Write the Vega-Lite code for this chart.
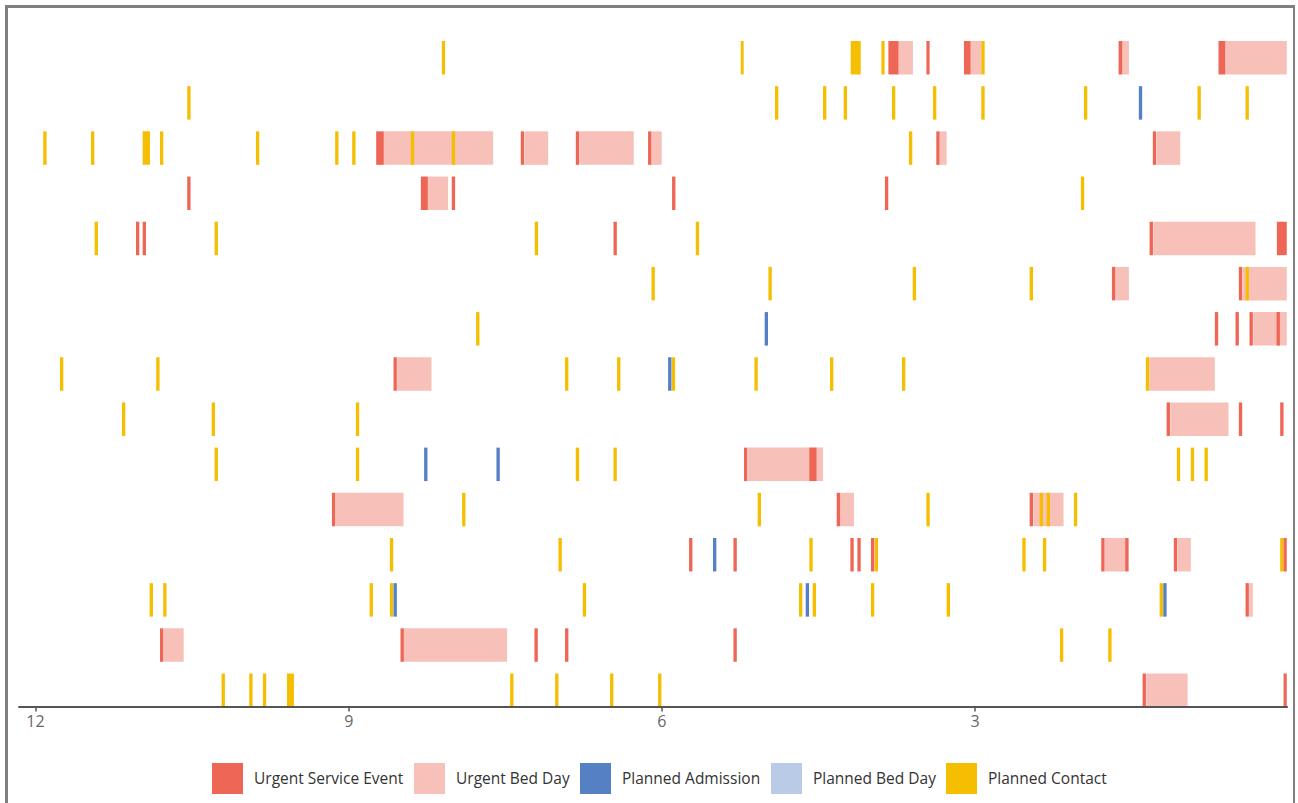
{
  "$schema": "https://vega.github.io/schema/vega-lite/v6.json",
  "width": 1288,
  "height": 800,
  "autosize": {"type": "none"},
  "padding": {"left": 6.5, "top": 6.5, "right": 0, "bottom": 0},
  "background": "white",
  "config": {"view": {"stroke": "#808080", "strokeWidth": 3}, "font": "Open Sans"},
  "layer": [
    {
      "data": {"values": [
        {"row":1,"type":"Urgent Bed Day","from":3.728,"to":3.591},
        {"row":1,"type":"Urgent Bed Day","from":3.038,"to":2.936},
        {"row":1,"type":"Urgent Bed Day","from":1.586,"to":1.522},
        {"row":1,"type":"Urgent Bed Day","from":0.599,"to":0.010},
        {"row":3,"type":"Urgent Bed Day","from":8.659,"to":7.612},
        {"row":3,"type":"Urgent Bed Day","from":7.311,"to":7.085},
        {"row":3,"type":"Urgent Bed Day","from":6.785,"to":6.265},
        {"row":3,"type":"Urgent Bed Day","from":6.095,"to":5.997},
        {"row":3,"type":"Urgent Bed Day","from":3.332,"to":3.268},
        {"row":3,"type":"Urgent Bed Day","from":1.257,"to":1.030},
        {"row":4,"type":"Urgent Bed Day","from":8.237,"to":8.043},
        {"row":5,"type":"Urgent Bed Day","from":1.289,"to":0.309},
        {"row":6,"type":"Urgent Bed Day","from":1.653,"to":1.522},
        {"row":6,"type":"Urgent Bed Day","from":0.434,"to":0.010},
        {"row":7,"type":"Urgent Bed Day","from":0.331,"to":0.010},
        {"row":8,"type":"Urgent Bed Day","from":8.531,"to":8.202},
        {"row":8,"type":"Urgent Bed Day","from":1.327,"to":0.699},
        {"row":9,"type":"Urgent Bed Day","from":1.126,"to":0.568},
        {"row":10,"type":"Urgent Bed Day","from":5.173,"to":4.452},
        {"row":11,"type":"Urgent Bed Day","from":9.121,"to":8.470},
        {"row":11,"type":"Urgent Bed Day","from":4.290,"to":4.155},
        {"row":11,"type":"Urgent Bed Day","from":2.438,"to":2.148},
        {"row":12,"type":"Urgent Bed Day","from":1.752,"to":1.551},
        {"row":12,"type":"Urgent Bed Day","from":1.056,"to":0.929},
        {"row":13,"type":"Urgent Bed Day","from":0.370,"to":0.335},
        {"row":14,"type":"Urgent Bed Day","from":10.768,"to":10.576},
        {"row":14,"type":"Urgent Bed Day","from":8.467,"to":7.478},
        {"row":15,"type":"Urgent Bed Day","from":1.356,"to":0.960},

        {"row":1,"type":"Planned Contact","from":8.103,"to":8.072},
        {"row":1,"type":"Planned Contact","from":5.240,"to":5.212},
        {"row":1,"type":"Planned Contact","from":4.187,"to":4.091},
        {"row":1,"type":"Planned Contact","from":3.893,"to":3.862},
        {"row":1,"type":"Planned Contact","from":2.936,"to":2.904},
        {"row":2,"type":"Planned Contact","from":10.542,"to":10.510},
        {"row":2,"type":"Planned Contact","from":4.912,"to":4.880},
        {"row":2,"type":"Planned Contact","from":4.452,"to":4.420},
        {"row":2,"type":"Planned Contact","from":4.254,"to":4.222},
        {"row":2,"type":"Planned Contact","from":3.792,"to":3.760},
        {"row":2,"type":"Planned Contact","from":3.399,"to":3.367},
        {"row":2,"type":"Planned Contact","from":2.936,"to":2.904},
        {"row":2,"type":"Planned Contact","from":1.953,"to":1.921},
        {"row":2,"type":"Planned Contact","from":0.865,"to":0.833},
        {"row":2,"type":"Planned Contact","from":0.405,"to":0.373},
        {"row":3,"type":"Planned Contact","from":11.921,"to":11.889},
        {"row":3,"type":"Planned Contact","from":11.464,"to":11.432},
        {"row":3,"type":"Planned Contact","from":10.969,"to":10.899},
        {"row":3,"type":"Planned Contact","from":10.803,"to":10.771},
        {"row":3,"type":"Planned Contact","from":9.884,"to":9.852},
        {"row":3,"type":"Planned Contact","from":9.125,"to":9.093},
        {"row":3,"type":"Planned Contact","from":8.962,"to":8.930},
        {"row":3,"type":"Planned Contact","from":8.400,"to":8.368},
        {"row":3,"type":"Planned Contact","from":8.008,"to":7.976},
        {"row":3,"type":"Planned Contact","from":3.629,"to":3.597},
        {"row":4,"type":"Planned Contact","from":1.982,"to":1.950},
        {"row":5,"type":"Planned Contact","from":11.429,"to":11.397},
        {"row":5,"type":"Planned Contact","from":10.280,"to":10.248},
        {"row":5,"type":"Planned Contact","from":7.213,"to":7.181},
        {"row":5,"type":"Planned Contact","from":5.671,"to":5.639},
        {"row":6,"type":"Planned Contact","from":6.095,"to":6.063},
        {"row":6,"type":"Planned Contact","from":4.975,"to":4.943},
        {"row":6,"type":"Planned Contact","from":3.593,"to":3.561},
        {"row":6,"type":"Planned Contact","from":2.473,"to":2.441},
        {"row":6,"type":"Planned Contact","from":0.405,"to":0.373},
        {"row":7,"type":"Planned Contact","from":7.775,"to":7.743},
        {"row":8,"type":"Planned Contact","from":11.761,"to":11.729},
        {"row":8,"type":"Planned Contact","from":10.839,"to":10.807},
        {"row":8,"type":"Planned Contact","from":6.923,"to":6.891},
        {"row":8,"type":"Planned Contact","from":6.425,"to":6.393},
        {"row":8,"type":"Planned Contact","from":5.901,"to":5.869},
        {"row":8,"type":"Planned Contact","from":5.109,"to":5.077},
        {"row":8,"type":"Planned Contact","from":4.385,"to":4.353},
        {"row":8,"type":"Planned Contact","from":3.696,"to":3.664},
        {"row":8,"type":"Planned Contact","from":1.360,"to":1.328},
        {"row":9,"type":"Planned Contact","from":11.167,"to":11.135},
        {"row":9,"type":"Planned Contact","from":10.308,"to":10.276},
        {"row":9,"type":"Planned Contact","from":8.927,"to":8.895},
        {"row":10,"type":"Planned Contact","from":10.280,"to":10.248},
        {"row":10,"type":"Planned Contact","from":8.927,"to":8.895},
        {"row":10,"type":"Planned Contact","from":6.820,"to":6.788},
        {"row":10,"type":"Planned Contact","from":6.459,"to":6.427},
        {"row":10,"type":"Planned Contact","from":1.063,"to":1.031},
        {"row":10,"type":"Planned Contact","from":0.929,"to":0.897},
        {"row":10,"type":"Planned Contact","from":0.798,"to":0.766},
        {"row":11,"type":"Planned Contact","from":7.909,"to":7.877},
        {"row":11,"type":"Planned Contact","from":5.078,"to":5.046},
        {"row":11,"type":"Planned Contact","from":3.462,"to":3.430},
        {"row":11,"type":"Planned Contact","from":2.377,"to":2.345},
        {"row":11,"type":"Planned Contact","from":2.310,"to":2.278},
        {"row":11,"type":"Planned Contact","from":2.049,"to":2.017},
        {"row":12,"type":"Planned Contact","from":8.601,"to":8.569},
        {"row":12,"type":"Planned Contact","from":6.986,"to":6.954},
        {"row":12,"type":"Planned Contact","from":4.583,"to":4.551},
        {"row":12,"type":"Planned Contact","from":3.957,"to":3.925},
        {"row":12,"type":"Planned Contact","from":2.543,"to":2.511},
        {"row":12,"type":"Planned Contact","from":2.346,"to":2.314},
        {"row":12,"type":"Planned Contact","from":0.073,"to":0.041},
        {"row":13,"type":"Planned Contact","from":10.902,"to":10.870},
        {"row":13,"type":"Planned Contact","from":10.772,"to":10.740},
        {"row":13,"type":"Planned Contact","from":8.795,"to":8.763},
        {"row":13,"type":"Planned Contact","from":8.601,"to":8.569},
        {"row":13,"type":"Planned Contact","from":6.753,"to":6.721},
        {"row":13,"type":"Planned Contact","from":4.682,"to":4.650},
        {"row":13,"type":"Planned Contact","from":4.551,"to":4.519},
        {"row":13,"type":"Planned Contact","from":3.993,"to":3.961},
        {"row":13,"type":"Planned Contact","from":3.268,"to":3.236},
        {"row":13,"type":"Planned Contact","from":1.228,"to":1.196},
        {"row":14,"type":"Planned Contact","from":2.183,"to":2.151},
        {"row":14,"type":"Planned Contact","from":1.720,"to":1.688},
        {"row":15,"type":"Planned Contact","from":10.213,"to":10.181},
        {"row":15,"type":"Planned Contact","from":9.948,"to":9.916},
        {"row":15,"type":"Planned Contact","from":9.817,"to":9.785},
        {"row":15,"type":"Planned Contact","from":9.587,"to":9.520},
        {"row":15,"type":"Planned Contact","from":7.449,"to":7.417},
        {"row":15,"type":"Planned Contact","from":7.018,"to":6.986},
        {"row":15,"type":"Planned Contact","from":6.492,"to":6.460},
        {"row":15,"type":"Planned Contact","from":6.032,"to":6.000},

        {"row":1,"type":"Urgent Service Event","from":3.826,"to":3.728},
        {"row":1,"type":"Urgent Service Event","from":3.462,"to":3.431},
        {"row":1,"type":"Urgent Service Event","from":3.102,"to":3.038},
        {"row":1,"type":"Urgent Service Event","from":1.621,"to":1.586},
        {"row":1,"type":"Urgent Service Event","from":0.664,"to":0.599},
        {"row":3,"type":"Urgent Service Event","from":8.732,"to":8.659},
        {"row":3,"type":"Urgent Service Event","from":7.347,"to":7.315},
        {"row":3,"type":"Urgent Service Event","from":6.820,"to":6.788},
        {"row":3,"type":"Urgent Service Event","from":6.128,"to":6.096},
        {"row":3,"type":"Urgent Service Event","from":3.367,"to":3.335},
        {"row":3,"type":"Urgent Service Event","from":1.293,"to":1.261},
        {"row":4,"type":"Urgent Service Event","from":10.542,"to":10.510},
        {"row":4,"type":"Urgent Service Event","from":8.304,"to":8.237},
        {"row":4,"type":"Urgent Service Event","from":8.008,"to":7.976},
        {"row":4,"type":"Urgent Service Event","from":5.898,"to":5.866},
        {"row":4,"type":"Urgent Service Event","from":3.859,"to":3.827},
        {"row":5,"type":"Urgent Service Event","from":11.033,"to":11.001},
        {"row":5,"type":"Urgent Service Event","from":10.969,"to":10.937},
        {"row":5,"type":"Urgent Service Event","from":6.459,"to":6.427},
        {"row":5,"type":"Urgent Service Event","from":1.324,"to":1.292},
        {"row":5,"type":"Urgent Service Event","from":0.105,"to":0.010},
        {"row":6,"type":"Urgent Service Event","from":1.685,"to":1.653},
        {"row":6,"type":"Urgent Service Event","from":0.469,"to":0.437},
        {"row":7,"type":"Urgent Service Event","from":0.699,"to":0.667},
        {"row":7,"type":"Urgent Service Event","from":0.501,"to":0.469},
        {"row":7,"type":"Urgent Service Event","from":0.367,"to":0.335},
        {"row":7,"type":"Urgent Service Event","from":0.108,"to":0.076},
        {"row":8,"type":"Urgent Service Event","from":8.566,"to":8.534},
        {"row":9,"type":"Urgent Service Event","from":1.161,"to":1.129},
        {"row":9,"type":"Urgent Service Event","from":0.469,"to":0.437},
        {"row":9,"type":"Urgent Service Event","from":0.073,"to":0.041},
        {"row":10,"type":"Urgent Service Event","from":5.209,"to":5.177},
        {"row":10,"type":"Urgent Service Event","from":4.583,"to":4.515},
        {"row":11,"type":"Urgent Service Event","from":9.156,"to":9.124},
        {"row":11,"type":"Urgent Service Event","from":4.321,"to":4.289},
        {"row":11,"type":"Urgent Service Event","from":2.473,"to":2.441},
        {"row":12,"type":"Urgent Service Event","from":5.735,"to":5.703},
        {"row":12,"type":"Urgent Service Event","from":5.310,"to":5.278},
        {"row":12,"type":"Urgent Service Event","from":4.190,"to":4.158},
        {"row":12,"type":"Urgent Service Event","from":4.123,"to":4.091},
        {"row":12,"type":"Urgent Service Event","from":3.993,"to":3.961},
        {"row":12,"type":"Urgent Service Event","from":1.787,"to":1.755},
        {"row":12,"type":"Urgent Service Event","from":1.557,"to":1.525},
        {"row":12,"type":"Urgent Service Event","from":1.092,"to":1.060},
        {"row":12,"type":"Urgent Service Event","from":0.041,"to":0.010},
        {"row":13,"type":"Urgent Service Event","from":0.405,"to":0.373},
        {"row":14,"type":"Urgent Service Event","from":10.803,"to":10.771},
        {"row":14,"type":"Urgent Service Event","from":8.499,"to":8.467},
        {"row":14,"type":"Urgent Service Event","from":7.216,"to":7.184},
        {"row":14,"type":"Urgent Service Event","from":6.923,"to":6.891},
        {"row":14,"type":"Urgent Service Event","from":5.310,"to":5.278},
        {"row":15,"type":"Urgent Service Event","from":1.391,"to":1.359},
        {"row":15,"type":"Urgent Service Event","from":0.041,"to":0.010},

        {"row":2,"type":"Planned Admission","from":1.427,"to":1.395},
        {"row":7,"type":"Planned Admission","from":5.011,"to":4.979},
        {"row":8,"type":"Planned Admission","from":5.936,"to":5.904},
        {"row":10,"type":"Planned Admission","from":8.273,"to":8.241},
        {"row":10,"type":"Planned Admission","from":7.580,"to":7.548},
        {"row":12,"type":"Planned Admission","from":5.506,"to":5.474},
        {"row":13,"type":"Planned Admission","from":8.566,"to":8.534},
        {"row":13,"type":"Planned Admission","from":4.618,"to":4.586},
        {"row":13,"type":"Planned Admission","from":1.193,"to":1.161}
      ]},
      "mark": {"type": "bar"},
      "encoding": {
        "x": {
          "field": "from", "type": "quantitative",
          "scale": {"domain": [12.273, -0.064], "nice": false, "zero": false},
          "axis": {
            "values": [12, 9, 6, 3], "format": "d", "domain": false, "grid": false, "title": null,
            "offset": -99.5, "tickColor": "#555555", "tickSize": 4, "tickWidth": 1.5,
            "labelFontSize": 16, "labelColor": "#666666", "labelPadding": 2, "labelFlush": false
          }
        },
        "x2": {"field": "to"},
        "y": {
          "field": "row", "type": "ordinal",
          "scale": {"range": [34.5, 700.5], "paddingInner": 0.259, "paddingOuter": 0},
          "axis": null
        },
        "color": {
          "field": "type", "type": "nominal",
          "scale": {
            "domain": ["Urgent Service Event", "Urgent Bed Day", "Planned Admission", "Planned Bed Day", "Planned Contact"],
            "range": ["#EE6655", "#F7C0B9", "#5580C4", "#BACBE7", "#F6BE00"]
          },
          "legend": {
            "orient": "none", "legendX": 205.5, "legendY": 756.5, "direction": "horizontal",
            "title": null, "symbolType": "square", "symbolSize": 961, "symbolStrokeWidth": 0,
            "symbolOpacity": 1, "labelFontSize": 15.5, "labelColor": "#333333", "labelOffset": 11,
            "columnPadding": 10, "padding": 0, "labelLimit": 300
          }
        }
      }
    },
    {
      "data": {"values": [{}]},
      "mark": {"type": "rule", "color": "#555555", "strokeWidth": 2},
      "encoding": {
        "x": {"datum": 12.16},
        "x2": {"datum": 0},
        "y": {"datum": 15, "type": "ordinal", "bandPosition": 1}
      }
    }
  ]
}
